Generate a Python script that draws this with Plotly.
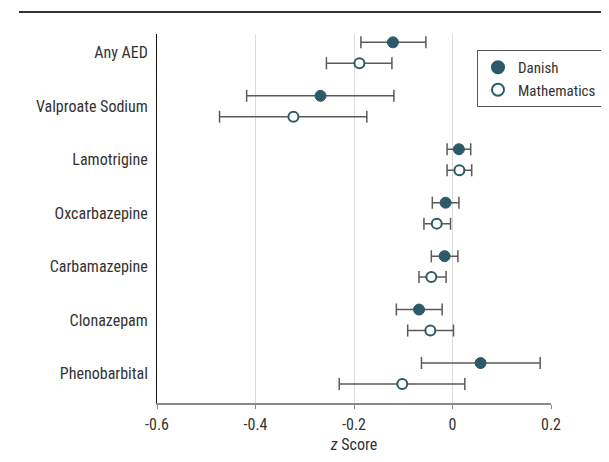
import plotly.graph_objects as go

categories = ["Any AED", "Valproate Sodium", "Lamotrigine", "Oxcarbazepine",
              "Carbamazepine", "Clonazepam", "Phenobarbital"]

danish = [-0.121, -0.268, 0.013, -0.014, -0.016, -0.068, 0.057]
danish_lo = [-0.186, -0.418, -0.011, -0.041, -0.043, -0.114, -0.063]
danish_hi = [-0.054, -0.119, 0.037, 0.013, 0.011, -0.021, 0.178]

math = [-0.189, -0.323, 0.014, -0.032, -0.043, -0.045, -0.102]
math_lo = [-0.256, -0.473, -0.011, -0.058, -0.068, -0.091, -0.230]
math_hi = [-0.123, -0.174, 0.039, -0.004, -0.013, 0.002, 0.025]

x_ticks = [-0.6, -0.4, -0.2, 0, 0.2]
x_ticktext = ["-0.6", "-0.4", "-0.2", "0", "0.2"]

TEAL = "#2c5a68"
ERR = "#5a5a5a"
FONT = "Liberation Sans Narrow, Roboto Condensed, Arial Narrow, sans-serif"
off = 0.196
pos = list(range(len(categories)))

L, R, T, B = 149, 66, 26, 67
PW = 609 - L - R
PH = 462 - T - B

fig = go.Figure()
fig.add_trace(go.Scatter(
    x=danish, y=[p - off for p in pos], mode="markers", name="Danish",
    marker=dict(size=11, color=TEAL, line=dict(color=TEAL, width=1)),
    error_x=dict(type="data", symmetric=False,
                 array=[h - v for h, v in zip(danish_hi, danish)],
                 arrayminus=[v - l for v, l in zip(danish, danish_lo)],
                 color=ERR, thickness=1.5, width=6),
))
fig.add_trace(go.Scatter(
    x=math, y=[p + off for p in pos], mode="markers", name="Mathematics",
    marker=dict(size=10, color="white", line=dict(color=TEAL, width=2)),
    error_x=dict(type="data", symmetric=False,
                 array=[h - v for h, v in zip(math_hi, math)],
                 arrayminus=[v - l for v, l in zip(math, math_lo)],
                 color=ERR, thickness=1.5, width=6),
))

# top rule
fig.add_shape(type="line", xref="paper", yref="paper",
              x0=(11 - L) / PW, x1=(609 - L) / PW,
              y0=(462 - B - 4) / PH, y1=(462 - B - 4) / PH,
              line=dict(color="#333333", width=2))
# zero reference line
fig.add_shape(type="line", xref="x", yref="paper", x0=0, x1=0, y0=0, y1=1,
              line=dict(color="#333333", width=1, dash="1px,2px"), layer="below")

fig.update_layout(
    width=609, height=462,
    margin=dict(l=L, r=R, t=T, b=B),
    paper_bgcolor="white", plot_bgcolor="white",
    font=dict(family=FONT, size=16, color="#333333"),
    showlegend=True,
    legend=dict(x=(469 - L) / PW, y=(462 - B - 42) / PH, xanchor="left", yanchor="top",
                bordercolor="#555555", borderwidth=1, bgcolor="white",
                font=dict(size=15), tracegroupgap=0, itemsizing="constant"),
    xaxis=dict(range=[-0.6, 0.2], tickvals=x_ticks, ticktext=x_ticktext,
               showgrid=True, gridcolor="#dcdcdc", gridwidth=1, zeroline=False,
               showline=True, linecolor="#8a8a8a", linewidth=2,
               ticks="outside", ticklen=4, tickcolor="#8a8a8a",
               ticklabelstandoff=2, tickfont=dict(size=16),
               title=dict(text="<i>z</i> Score", standoff=6, font=dict(size=16))),
    yaxis=dict(range=[6.552, -0.352], tickvals=pos, ticktext=categories,
               showgrid=False, zeroline=False, showline=True, linecolor="#111111",
               linewidth=1, ticks="", ticklabelstandoff=5, tickfont=dict(size=16)),
)

fig.write_html("out.html")
